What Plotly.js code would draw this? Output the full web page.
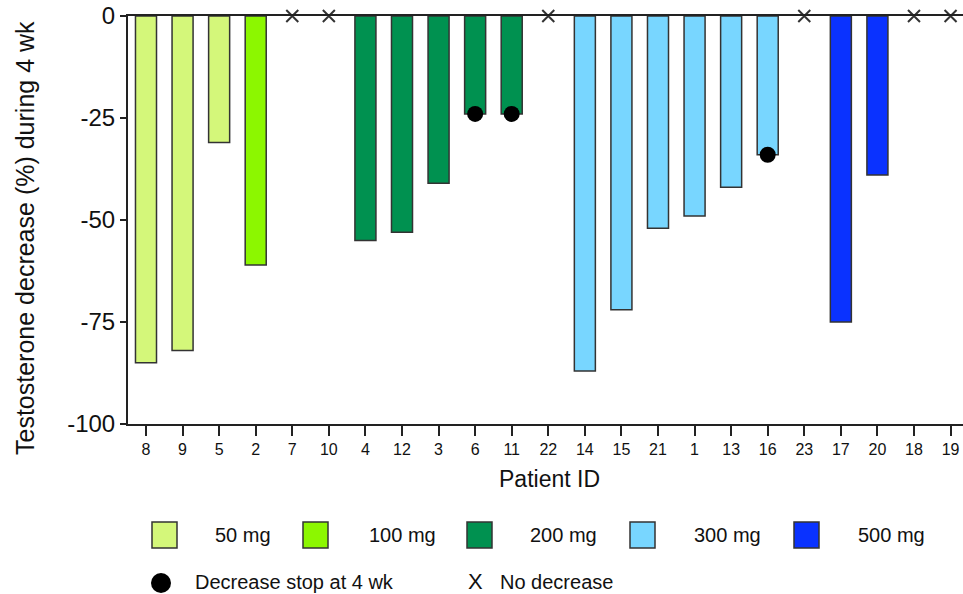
<!DOCTYPE html>
<html>
<head>
<meta charset="utf-8">
<script src="https://cdn.plot.ly/plotly-3.0.1.min.js"></script>
<style>html,body{margin:0;padding:0;background:#fff;}#chart{width:963px;height:594px;}</style>
</head>
<body>
<div id="chart"></div>
<script>
// ---- data ----
const patients = ['8','9','5','2','7','10','4','12','3','6','11','22','14','15','21','1','13','16','23','17','20','18','19'];
const decrease = [-85,-82,-31,-61,0,0,-55,-53,-41,-24,-24,0,-87,-72,-52,-49,-42,-34,0,-75,-39,0,0];
const dose = ['50 mg','50 mg','50 mg','100 mg','100 mg','100 mg','200 mg','200 mg','200 mg','200 mg','200 mg','200 mg',
              '300 mg','300 mg','300 mg','300 mg','300 mg','300 mg','300 mg','500 mg','500 mg','500 mg','500 mg'];
const stopAt4wk = ['6','11','16'];
const noDecrease = ['7','10','22','23','18','19'];
const doseLabels = ['50 mg','100 mg','200 mg','300 mg','500 mg'];
const doseColors = ['#D4F77A','#8CF700','#009150','#78D6FF','#0A32FF'];

// ---- geometry helpers (pixels -> paper) ----
const L = 128, R = 963, T = 16, B = 424;
const px = p => (p - L) / (R - L);
const py = p => (B - p) / (B - T);
const FONT = 'Liberation Sans, Arial, sans-serif';

const traces = [];
doseLabels.forEach((g, gi) => {
  const xs = [], ys = [];
  patients.forEach((p, i) => {
    if (dose[i] === g && noDecrease.indexOf(p) < 0) { xs.push(p); ys.push(decrease[i]); }
  });
  traces.push({
    type: 'bar', name: g, x: xs, y: ys, width: 0.575,
    marker: {color: doseColors[gi], line: {color: '#333', width: 1.5}},
    hoverinfo: 'x+y'
  });
});
traces.push({
  type: 'scatter', mode: 'markers', name: 'Decrease stop at 4 wk',
  x: stopAt4wk, y: stopAt4wk.map(p => decrease[patients.indexOf(p)]),
  marker: {color: '#000', size: 16, symbol: 'circle'}, cliponaxis: false
});
traces.push({
  type: 'scatter', mode: 'markers', name: 'No decrease',
  x: noDecrease, y: noDecrease.map(p => decrease[patients.indexOf(p)]),
  marker: {color: '#333', size: 12, symbol: 'x-thin-open', line: {color: '#333', width: 2}}, cliponaxis: false
});

// ---- legend drawn as shapes/annotations ----
const sqX = [152, 303, 467, 630, 794];
const txX = [213, 367, 528, 692, 856];
const shapes = [];
const annotations = [];
doseLabels.forEach((g, gi) => {
  shapes.push({type: 'rect', xref: 'paper', yref: 'paper',
    x0: px(sqX[gi]), x1: px(sqX[gi] + 25), y0: py(548), y1: py(522),
    fillcolor: doseColors[gi], line: {color: '#333', width: 1.5}});
  annotations.push({xref: 'paper', yref: 'paper', x: px(txX[gi]), y: py(535),
    xanchor: 'left', yanchor: 'middle', text: g, showarrow: false,
    font: {family: FONT, size: 20, color: '#111'}});
});
shapes.push({type: 'circle', xref: 'paper', yref: 'paper',
  x0: px(151), x1: px(171), y0: py(593), y1: py(573), fillcolor: '#000', line: {color: '#000', width: 0}});
annotations.push({xref: 'paper', yref: 'paper', x: px(193), y: py(582), xanchor: 'left', yanchor: 'middle',
  text: 'Decrease stop at 4 wk', showarrow: false, font: {family: FONT, size: 20, color: '#111'}});
annotations.push({xref: 'paper', yref: 'paper', x: px(475), y: py(581), xanchor: 'center', yanchor: 'middle',
  text: 'X', showarrow: false, font: {family: FONT, size: 22, color: '#111'}});
annotations.push({xref: 'paper', yref: 'paper', x: px(498), y: py(582), xanchor: 'left', yanchor: 'middle',
  text: 'No decrease', showarrow: false, font: {family: FONT, size: 20, color: '#111'}});
// axis titles
annotations.push({xref: 'paper', yref: 'paper', x: px(25), y: py(238), xanchor: 'center', yanchor: 'middle',
  textangle: -90, text: 'Testosterone decrease (%) during 4 wk', showarrow: false,
  font: {family: FONT, size: 25, color: '#111'}});
annotations.push({xref: 'paper', yref: 'paper', x: px(549), y: py(479), xanchor: 'center', yanchor: 'middle',
  text: 'Patient ID', showarrow: false, font: {family: FONT, size: 23, color: '#111'}});

const layout = {
  width: 963, height: 594,
  margin: {l: L, r: 963 - R, t: T, b: 594 - B},
  paper_bgcolor: '#fff', plot_bgcolor: '#fff',
  showlegend: false, barmode: 'overlay',
  xaxis: {
    type: 'category', categoryorder: 'array', categoryarray: patients,
    range: [-0.492, 22.34], showgrid: false, zeroline: false,
    showline: true, mirror: true, linecolor: '#222', linewidth: 2,
    ticks: 'outside', ticklen: 10, tickwidth: 2, tickcolor: '#222',
    tickfont: {family: FONT, size: 16, color: '#111'}, fixedrange: true
  },
  yaxis: {
    range: [-100, 0], tickvals: [0, -25, -50, -75, -100], ticktext: ['0','-25','-50','-75','-100'],
    showgrid: false, zeroline: false, showline: true, linecolor: '#222', linewidth: 2,
    ticks: 'outside', ticklen: 6, tickwidth: 2, tickcolor: '#222',
    tickfont: {family: FONT, size: 24, color: '#111'}, fixedrange: true
  },
  shapes: shapes,
  annotations: annotations
};

Plotly.newPlot('chart', traces, layout, {displayModeBar: false, staticPlot: true});
</script>
</body>
</html>
